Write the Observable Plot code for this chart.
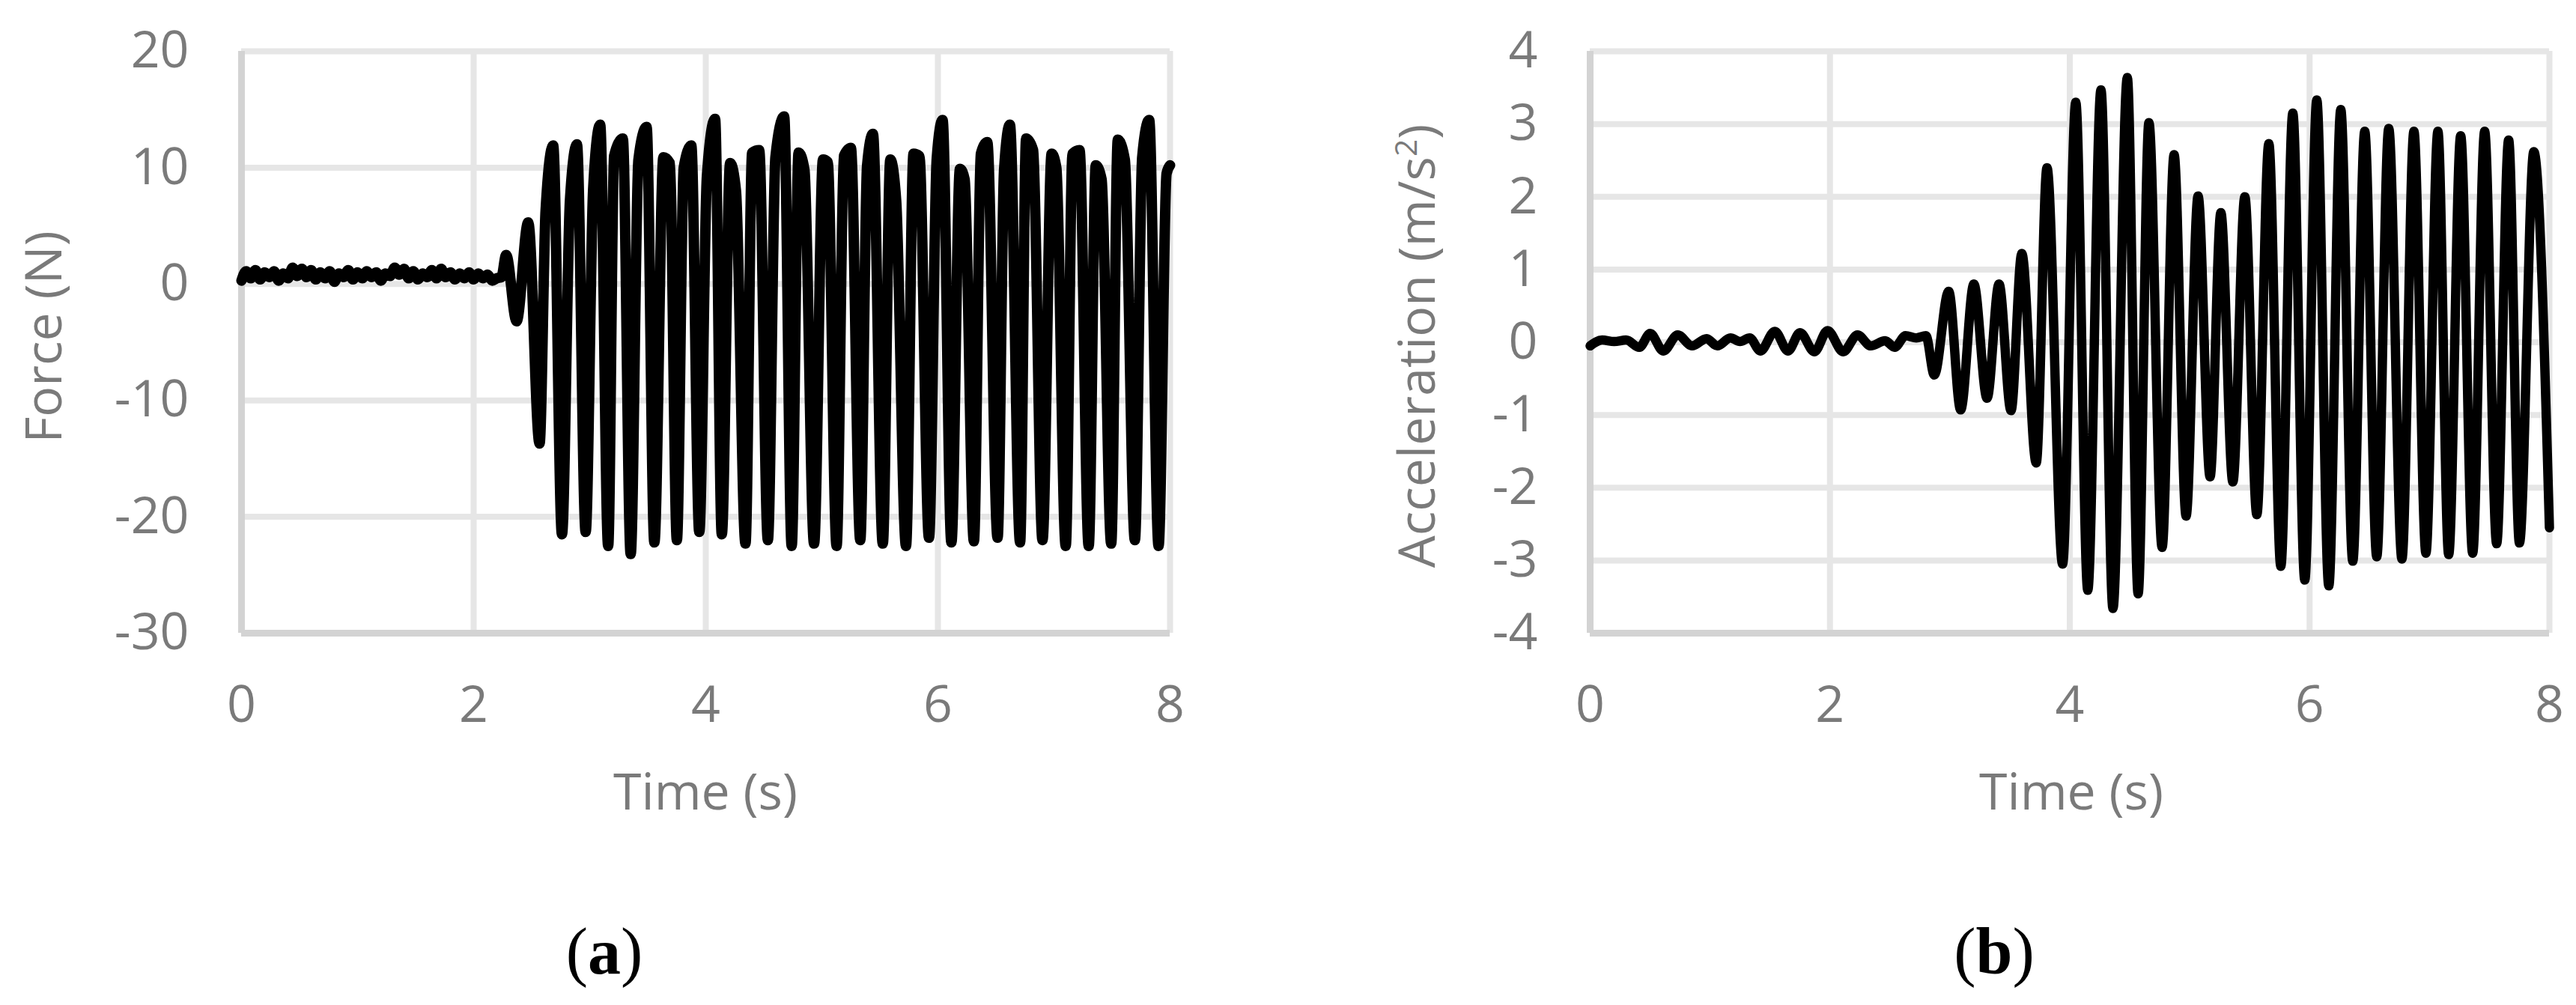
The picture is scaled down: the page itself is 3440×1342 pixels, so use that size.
<!DOCTYPE html>
<html><head><meta charset="utf-8">
<script src="https://cdn.jsdelivr.net/npm/d3@7"></script>
<script src="https://cdn.jsdelivr.net/npm/@observablehq/plot@0.6"></script>
<style>
body{margin:0;background:#fff;}
#wrap{position:relative;width:3440px;height:1342px;overflow:hidden;font-family:"Open Sans",sans-serif;background:#fff;}
.ttl{position:absolute;color:#7a7a7a;font-size:68px;line-height:1;white-space:nowrap;transform:translate(-50%,-50%);}
.yttl{transform:translate(-50%,-50%) rotate(-90deg);}
.ttl sup{font-size:0.6em;vertical-align:0.6em;line-height:0;}
.cap{position:absolute;font-family:"Liberation Serif","Times New Roman",serif;font-size:88px;line-height:1;color:#000;white-space:nowrap;transform:translate(-50%,-50%);}
</style></head>
<body><div id="wrap"></div>
<script>
// Tick labels
const timeTicks = [0, 2, 4, 6, 8];
const forceTicks = [-30, -20, -10, 0, 10, 20];
const accelTicks = [-4, -3, -2, -1, 0, 1, 2, 3, 4];

// (a) Force (N): quiet part before shaking
const forceQuietT = [0,0.04,0.08,0.12,0.16,0.2,0.24,0.28,0.32,0.36,
  0.4,0.44,0.48,0.52,0.56,0.6,0.64,0.68,0.72,0.76,
  0.8,0.84,0.88,0.92,0.96,1,1.04,1.08,1.12,1.16,
  1.2,1.24,1.28,1.32,1.36,1.4,1.44,1.48,1.52,1.56,
  1.6,1.64,1.68,1.72,1.76,1.8,1.84,1.88,1.92,1.96,
  2,2.04,2.08,2.12,2.16,2.2,2.24];
const forceQuietV = [0.3,1.1,0.5,1.2,0.4,1.0,0.6,1.1,0.3,0.9,
  0.5,1.4,0.7,1.3,0.6,1.2,0.4,1.0,0.5,1.1,
  0.2,0.9,0.6,1.2,0.4,1.0,0.5,1.1,0.6,1.0,
  0.3,0.9,0.7,1.4,0.8,1.3,0.5,1.1,0.4,0.9,
  0.6,1.2,0.5,1.3,0.6,1.0,0.4,0.9,0.5,1.0,
  0.4,0.9,0.5,0.8,0.3,0.5,0.6];

// (a) Force (N): shaking part (troughs, shoulders, peaks)
const forceShakeT = [2.28,2.37,2.47,
  2.568,2.62,2.685, 2.761,2.83,2.89, 2.965,3.03,3.09, 3.159,3.21,3.285,
  3.353,3.42,3.49, 3.557,3.635,3.69, 3.751,3.81,3.875, 3.944,4.01,4.08,
  4.138,4.21,4.26, 4.342,4.4,4.46, 4.535,4.6,4.675, 4.74,4.8,4.85,
  4.933,5.01,5.05, 5.127,5.19,5.25, 5.331,5.39,5.44, 5.525,5.59,5.64,
  5.725,5.79,5.84, 5.923,5.99,6.04, 6.116,6.19,6.23, 6.31,6.37,6.425,
  6.514,6.57,6.62, 6.708,6.76,6.82, 6.901,6.98,7.02, 7.101,7.16,7.22,
  7.299,7.36,7.41, 7.493,7.55,7.61, 7.697,7.76,7.82, 7.901,7.97,8];
const forceShakeV = [2.5,-3.2,5.3,
  -13.7,6.3,11.9, -21.5,7.2,12.0, -21.3,8.2,13.7, -22.5,11.0,12.5,
  -23.2,10.7,13.5, -22.2,10.9,10.4, -22.0,10.0,11.9, -21.3,9.3,14.2,
  -21.5,10.4,8.0, -22.3,11.3,11.5, -22.0,10.9,14.4, -22.5,11.3,9.8,
  -22.3,10.7,10.5, -22.5,11.0,11.7, -22.0,10.2,12.9, -22.3,10.7,7.2,
  -22.5,11.2,11.0, -21.8,10.8,14.1, -22.2,9.9,9.0, -22.1,11.2,12.2,
  -21.8,9.8,13.7, -22.2,12.5,11.5, -22.0,11.2,10.0, -22.5,11.2,11.5,
  -22.5,10.2,9.0, -22.3,12.4,10.7, -22.0,10.9,14.1, -22.5,9.5,10.2];

// (b) Acceleration (m/s²): turning points
const accelT = [0,0.1,0.2,0.3,0.41,0.5,0.61,0.73,0.85,0.97,
  1.06,1.17,1.25,1.33,1.42,1.54,1.65,1.75,1.87,1.98,
  2.11,2.23,2.34,2.46,2.54,2.63,2.72,2.8,
  2.87,2.99,3.09,3.2,3.31,3.41,3.51,3.6,3.72,3.81,
  3.94,4.05,4.15,4.26,4.36,4.48,4.57,4.66,4.77,4.87,
  4.97,5.07,5.17,5.26,5.36,5.46,5.56,5.66,5.76,5.86,
  5.96,6.06,6.16,6.26,6.36,6.46,6.56,6.66,6.77,6.87,
  6.97,7.07,7.16,7.26,7.36,7.46,7.56,7.66,7.75,7.87,8];
const accelV = [-0.05,0.03,0.01,0.03,-0.07,0.12,-0.12,0.10,-0.05,0.05,
  -0.05,0.06,0.01,0.06,-0.12,0.15,-0.12,0.13,-0.13,0.16,
  -0.13,0.10,-0.05,0.02,-0.07,0.09,0.06,0.09,
  -0.45,0.70,-0.93,0.80,-0.77,0.80,-0.94,1.22,-1.66,2.40,
  -3.05,3.30,-3.41,3.47,-3.66,3.64,-3.46,3.02,-2.82,2.58,
  -2.39,2.01,-1.85,1.78,-1.92,2.00,-2.37,2.73,-3.08,3.15,
  -3.27,3.33,-3.35,3.20,-3.01,2.90,-2.95,2.94,-2.98,2.90,
  -2.90,2.90,-2.92,2.84,-2.90,2.90,-2.77,2.78,-2.76,2.62,-2.55];

const wrap = document.getElementById("wrap");
const gridColor = "#e6e6e6";
const axisColor = "#d3d3d3";
const labelColor = "#7a7a7a";

function zipSeries(T, V) { return T.map((t, i) => ({t, v: V[i]})); }

function panel({left, width, mL, mR, data, yTicks, yDomain, lineWidth}) {
  const chart = Plot.plot({
    width, height: 1000,
    marginLeft: mL, marginRight: mR, marginTop: 68, marginBottom: 155,
    style: {fontFamily: "'Open Sans', sans-serif", fontSize: "68px", color: labelColor, background: "transparent", overflow: "visible"},
    x: {domain: [0, 8], ticks: timeTicks, tickSize: 0, tickPadding: 70, tickFormat: d => String(d), label: null},
    y: {domain: yDomain, ticks: yTicks, tickSize: 0, tickPadding: 70, tickFormat: d => String(d), label: null},
    marks: [
      Plot.ruleY(yTicks.filter(d => d !== yDomain[0]), {stroke: gridColor, strokeWidth: 8}),
      Plot.ruleX(timeTicks.filter(d => d !== 0), {stroke: gridColor, strokeWidth: 8}),
      Plot.ruleX([0], {stroke: axisColor, strokeWidth: 9}),
      Plot.ruleY([yDomain[0]], {stroke: axisColor, strokeWidth: 9}),
      Plot.line(data, {x: "t", y: "v", stroke: "#000", strokeWidth: lineWidth, curve: "monotone-x", strokeLinejoin: "round"})
    ]
  });
  chart.style.position = "absolute";
  chart.style.left = left + "px";
  chart.style.top = "0px";
  wrap.appendChild(chart);
}

panel({left: 0, width: 1700, mL: 322, mR: 138,
  data: zipSeries(forceQuietT.concat(forceShakeT), forceQuietV.concat(forceShakeV)),
  yTicks: forceTicks, yDomain: [-30, 20], lineWidth: 14});
panel({left: 1700, width: 1740, mL: 423, mR: 36,
  data: zipSeries(accelT, accelV),
  yTicks: accelTicks, yDomain: [-4, 4], lineWidth: 12.5});

function addText(cls, html, x, y) {
  const d = document.createElement("div");
  d.className = cls;
  d.innerHTML = html;
  d.style.left = x + "px";
  d.style.top = y + "px";
  wrap.appendChild(d);
}
addText("ttl yttl", "Force (N)", 56, 450);
addText("ttl yttl", "Acceleration (m/s<sup>2</sup>)", 1890, 462);
addText("ttl", "Time (s)", 942, 1055);
addText("ttl", "Time (s)", 2766, 1055);
addText("cap", "(<b>a</b>)", 807, 1271);
addText("cap", "(<b>b</b>)", 2663, 1271);
</script>
</body></html>
